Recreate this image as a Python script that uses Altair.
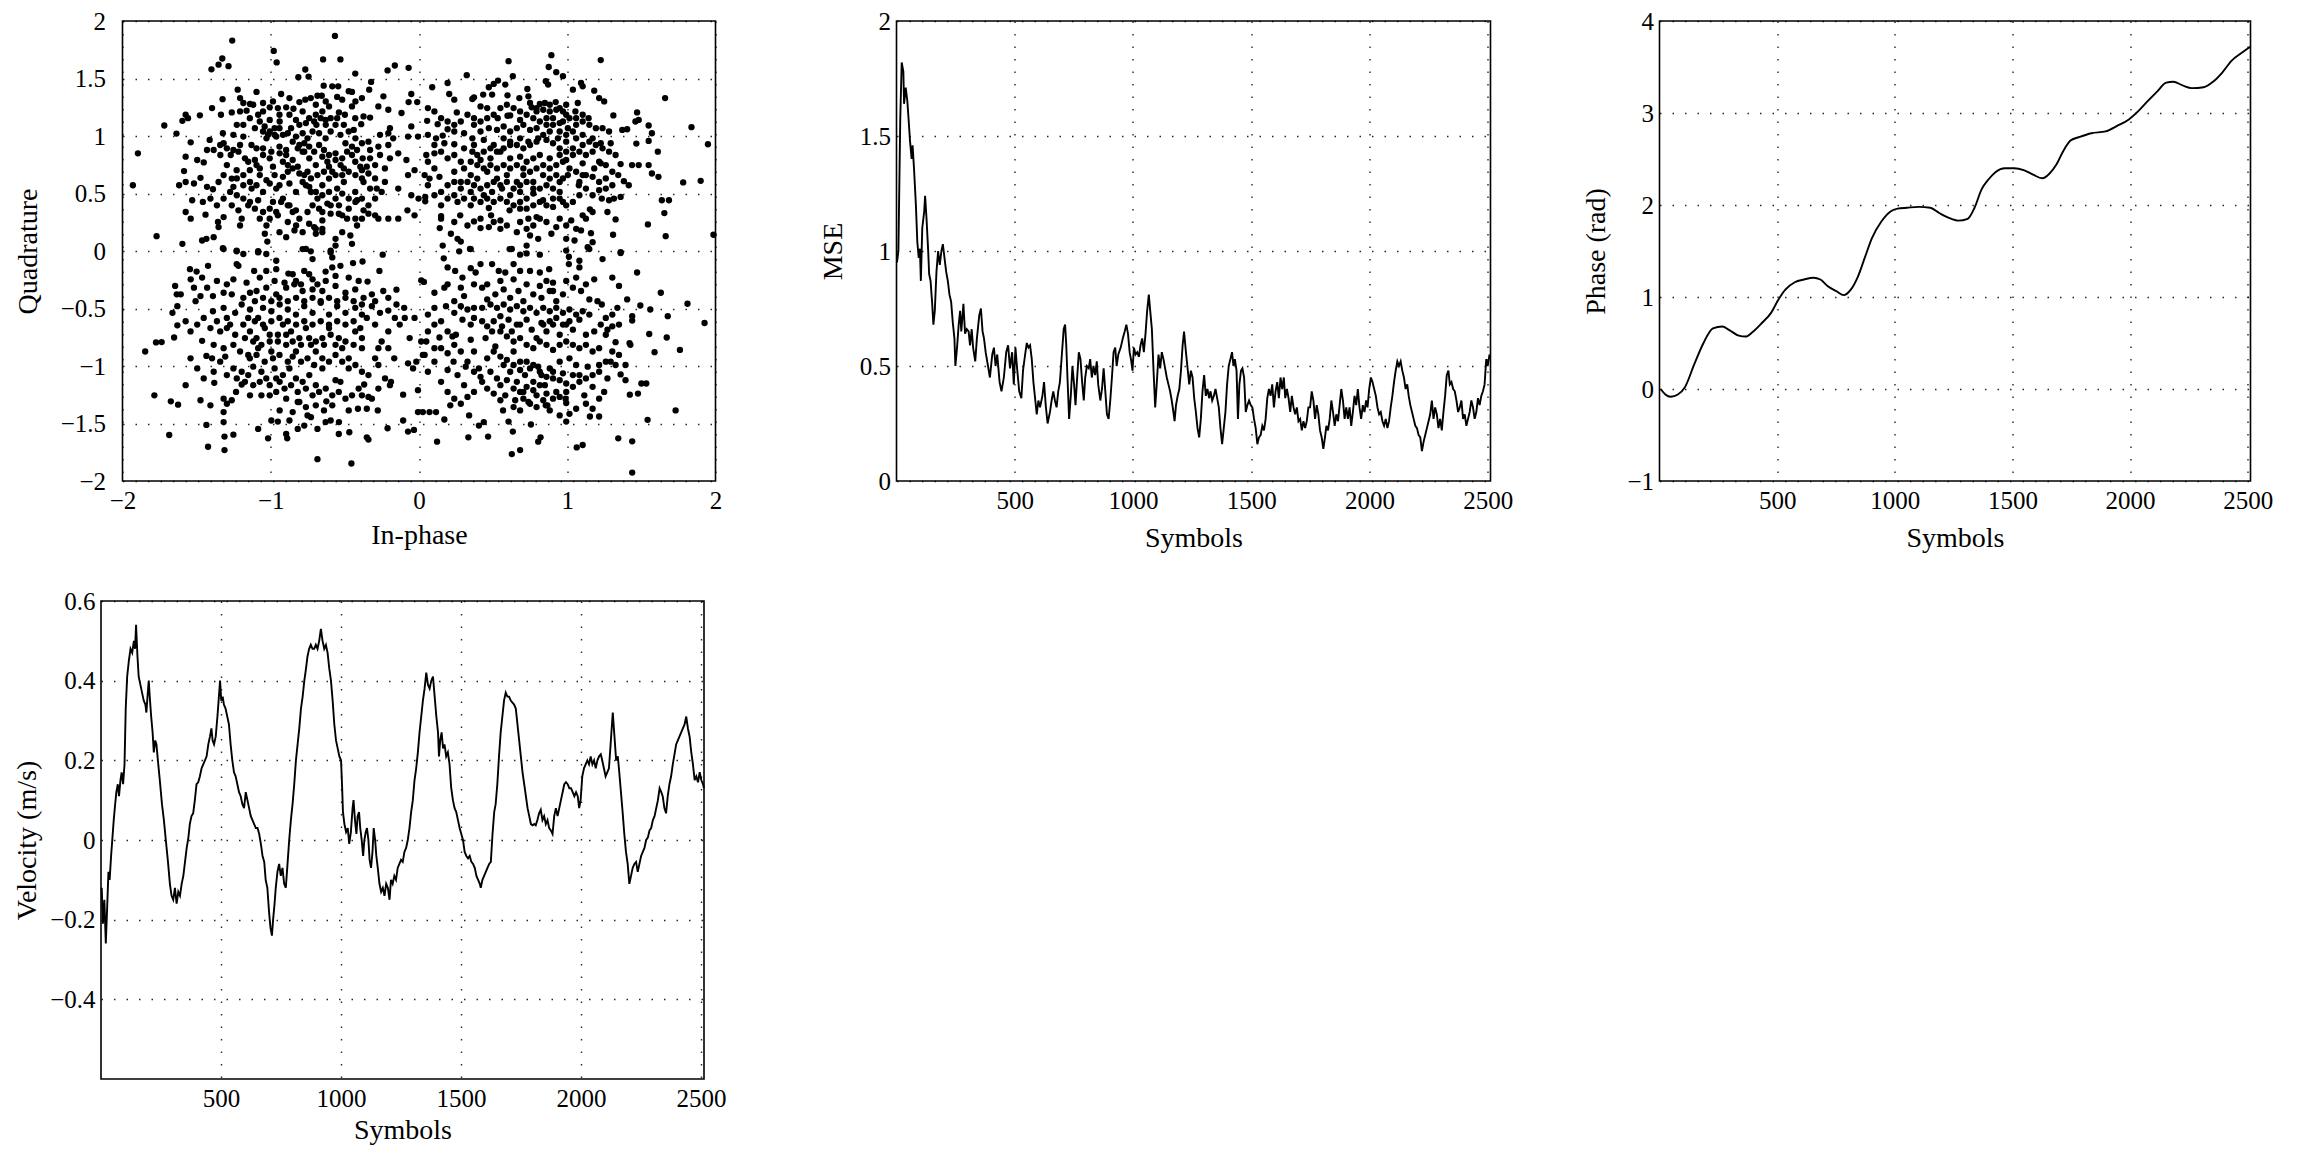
import altair as alt
import pandas as pd

FONT = "Liberation Serif"

# ---------------- data ----------------
# Constellation (In-phase, Quadrature), grouped by the region they were read from
iq_upper_left = [
    (-1.26, 1.83), (-0.98, 1.74), (-0.96, 1.64), (-0.567, 1.87), (-0.647, 1.666), (-0.53, 1.666),
    (-1.327, 1.674), (-1.352, 1.62), (-1.40, 1.58), (-1.285, 1.607), (-0.767, 1.578), (-0.814, 1.511),
    (-0.745, 1.517), (-0.43, 1.543), (-0.212, 1.57), (-0.163, 1.613), (-0.07, 1.593),
    (-1.223, 1.403), (-1.207, 1.33), (-1.185, 1.287), (-1.14, 1.278), (-1.096, 1.383), (-1.325, 1.32),
    (-0.93, 1.365), (-0.807, 1.295), (-0.767, 1.316), (-0.73, 1.33), (-0.685, 1.35), (-0.656, 1.35),
    (-0.643, 1.438), (-0.585, 1.432), (-0.545, 1.432), (-0.552, 1.34), (-0.474, 1.39), (-0.452, 1.383),
    (-0.323, 1.47), (-0.336, 1.403), (-0.24, 1.345), (-0.274, 1.257), (-0.207, 1.228), (-0.118, 1.2),
    (-0.07, 1.295), (-0.012, 1.295), (-0.052, 1.365),
    (-1.574, 1.185), (-1.558, 1.155), (-1.596, 1.132), (-1.478, 1.18), (-1.396, 1.243), (-1.336, 1.185),
    (-1.263, 1.205), (-1.207, 1.214), (-1.163, 1.22), (-1.085, 1.185), (-1.052, 1.214), (-1.007, 1.249),
    (-0.952, 1.243), (-0.896, 1.249), (-0.847, 1.237), (-0.874, 1.185), (-0.785, 1.214), (-0.696, 1.185),
    (-0.652, 1.214), (-0.607, 1.257), (-0.54, 1.205), (-0.5, 1.185), (-0.452, 1.257), (-0.43, 1.155),
    (-0.374, 1.17), (-0.33, 1.16), (-0.39, 1.103), (-1.074, 1.126), (-1.007, 1.14), (-0.94, 1.126),
    (-0.83, 1.14), (-0.763, 1.112), (-0.692, 1.097), (-0.63, 1.14), (-0.563, 1.097), (-1.718, 1.091),
    (-1.636, 1.021), (-0.196, 1.068), (-0.207, 1.024), (-0.052, 1.083),
    (-1.54, 0.945), (-1.412, 0.966), (-1.323, 1.024), (-1.318, 0.937), (-1.252, 1.01), (-1.185, 0.995),
    (-1.13, 0.922), (-1.052, 1.039), (-1.018, 1.01), (-0.974, 1.068), (-0.963, 0.995), (-0.918, 1.01),
    (-0.863, 1.068), (-0.83, 0.995), (-0.807, 0.922), (-0.774, 0.937), (-0.752, 0.98), (-0.718, 1.039),
    (-0.674, 1.024), (-0.63, 0.98), (-0.596, 1.039), (-0.53, 1.01), (-0.496, 0.937), (-0.44, 1.053),
    (-0.385, 0.937), (-0.341, 0.951), (-0.33, 0.878), (-0.274, 0.908), (-0.263, 1.01), (-0.074, 0.995),
    (-0.007, 0.995),
    (-1.896, 0.849), (-1.574, 0.82), (-1.496, 0.791), (-1.452, 0.77), (-1.43, 0.878), (-1.34, 0.835),
    (-1.27, 0.835), (-1.218, 0.864), (-1.174, 0.806), (-1.152, 0.776), (-1.107, 0.791), (-1.052, 0.835),
    (-1.007, 0.806), (-0.94, 0.849), (-0.896, 0.835), (-0.852, 0.791), (-0.785, 0.864), (-0.74, 0.806),
    (-0.696, 0.747), (-0.652, 0.82), (-0.618, 0.776), (-0.563, 0.849), (-0.518, 0.806), (-0.452, 0.835),
    (-0.43, 0.776), (-0.38, 0.806), (-0.33, 0.806), (-0.296, 0.747), (-0.23, 0.718), (-0.196, 0.806),
    (-0.14, 0.849), (-0.085, 0.791), (-0.03, 0.703), (-1.296, 0.747), (-1.23, 0.703), (-1.074, 0.718),
    (-0.985, 0.733), (-0.885, 0.689), (-0.818, 0.733), (-0.752, 0.689), (-0.585, 0.689), (-0.507, 0.718),
    (-0.385, 0.703),
    (-1.93, 0.572), (-1.585, 0.695), (-1.618, 0.572), (-1.574, 0.6), (-1.518, 0.587), (-1.474, 0.636),
    (-1.43, 0.558), (-1.39, 0.537), (-1.352, 0.6), (-1.318, 0.66), (-1.263, 0.63), (-1.252, 0.558),
    (-1.185, 0.66), (-1.14, 0.6), (-1.096, 0.572), (-1.052, 0.514), (-1.007, 0.587), (-0.963, 0.543),
    (-0.918, 0.645), (-0.874, 0.587), (-0.83, 0.514), (-0.785, 0.6), (-0.74, 0.558), (-0.696, 0.514),
    (-0.652, 0.572), (-0.607, 0.63), (-0.552, 0.543), (-0.507, 0.6), (-0.43, 0.514), (-0.374, 0.6),
    (-0.33, 0.543), (-0.285, 0.543), (-0.14, 0.543), (-0.074, 0.66), (-0.052, 0.485), (-0.003, 0.456),
    (-1.53, 0.441), (-1.458, 0.427), (-1.574, 0.339), (-1.54, 0.281), (-1.44, 0.316), (-1.356, 0.252),
    (-1.318, 0.295), (-1.263, 0.397), (-1.218, 0.354), (-1.196, 0.281), (-1.14, 0.427), (-1.085, 0.441),
    (-1.007, 0.368), (-0.963, 0.339), (-0.93, 0.427), (-0.874, 0.397), (-0.83, 0.354), (-0.807, 0.281),
    (-0.752, 0.339), (-0.718, 0.397), (-0.674, 0.368), (-0.618, 0.412), (-0.596, 0.325), (-0.652, 0.266),
    (-0.54, 0.397), (-0.518, 0.31), (-0.474, 0.368), (-0.418, 0.441), (-0.374, 0.354), (-0.341, 0.325),
    (-0.296, 0.31), (-0.274, 0.281), (-0.207, 0.281), (-0.14, 0.281), (-0.078, 0.354), (-0.03, 0.31),
    (-1.207, 0.222),
    (-1.77, 0.129), (-1.596, 0.062), (-1.463, 0.091), (-1.434, 0.106), (-1.385, 0.12), (-1.352, 0.208),
    (-1.323, 0.024), (-1.23, -0.002), (-1.085, -0.002), (-1.04, 0.15), (-1.023, 0.082), (-0.896, 0.12),
    (-0.84, 0.179), (-0.763, 0.018), (-0.707, 0.208), (-0.696, 0.15), (-0.652, 0.164), (-0.596, 0.004),
    (-0.563, 0.047), (-0.463, 0.135), (-0.452, 0.062), (-0.418, 0.222),
    # denser core of the cluster
    (-1.041, 1.083), (-1.007, 1.039), (-0.974, 1.010), (-1.029, 0.980), (-0.941, 1.068), (-0.885, 1.024),
    (-0.852, 0.951), (-0.818, 0.893), (-0.774, 0.864), (-0.741, 0.908), (-0.707, 0.864), (-0.674, 0.922),
    (-0.641, 0.878), (-0.607, 0.835), (-0.563, 0.791), (-0.529, 0.747), (-0.485, 0.864), (-0.452, 0.908),
    (-0.418, 0.878), (-0.396, 0.733), (-0.352, 0.733), (-0.741, 1.155), (-0.707, 1.126), (-0.663, 1.155),
    (-0.629, 1.097), (-0.596, 1.155), (-0.552, 1.155), (-0.507, 1.097), (-0.474, 1.039), (-0.429, 0.980),
    (-0.918, 0.776), (-0.885, 0.747), (-0.852, 0.718), (-0.807, 0.674), (-0.774, 0.660), (-0.729, 0.631),
    (-0.685, 0.660), (-0.641, 0.689), (-0.607, 0.733), (-0.563, 0.660), (-0.518, 0.660), (-0.474, 0.689),
    (-0.429, 0.660), (-0.385, 0.631), (-0.341, 0.674), (-0.763, 0.572), (-0.729, 0.514), (-0.685, 0.456),
    (-0.652, 0.485), (-0.607, 0.514), (-0.563, 0.456), (-0.518, 0.499), (-0.474, 0.456), (-0.429, 0.427),
    (-0.385, 0.456), (-0.918, 0.456), (-0.885, 0.397), (-0.852, 0.339), (-0.985, 0.427), (-0.952, 0.310),
    (-1.007, 0.281), (-1.052, 0.339), (-1.107, 0.368), (-1.152, 0.397), (-1.185, 0.456), (-1.229, 0.485),
    (-1.274, 0.514), (-1.318, 0.456), (-1.363, 0.397), (-1.407, 0.456), (-1.207, 0.922), (-1.252, 0.878),
    (-1.296, 0.893), (-1.341, 0.922), (-1.385, 0.878), (-1.096, 0.893), (-1.052, 0.893), (-0.996, 0.864),
    (-0.941, 0.908), (-0.896, 0.878), (-1.141, 1.155), (-1.185, 1.097), (-1.229, 1.097), (-1.107, 1.068),
    (-0.941, 1.185), (-0.807, 1.097), (-0.785, 1.024), (-1.074, 0.660), (-1.029, 0.616), (-0.974, 0.660),
    (-0.941, 0.572), (-1.129, 0.543), (-1.185, 0.572), (-1.229, 0.631), (-1.141, 0.703), (-1.096, 0.747),
    (-0.652, 0.339), (-0.596, 0.397), (-0.541, 0.324), (-0.485, 0.281), (-0.429, 0.281), (-0.741, 0.237),
    (-0.696, 0.193), (-0.785, 0.164), (-0.829, 0.222), (-0.885, 0.252), (-1.029, 0.222), (-1.074, 0.281),
    (-0.941, 0.164), (-0.652, 0.193), (-0.563, 0.106), (-0.518, 0.164), (-0.385, 0.281), (-0.341, 0.397),
    (-0.296, 0.456), (-0.252, 0.514), (-0.230, 0.601), (-0.296, 0.631), (-0.263, 0.835), (-0.207, 0.922),
    (-0.174, 0.980), (-0.429, 1.301), (-0.385, 1.330), (-0.518, 1.316), (-0.629, 1.301), (-0.696, 1.272),
    (-0.874, 1.330), (-0.985, 1.301), (-1.052, 1.287), (-1.118, 1.272),
]

iq_upper_right = [
    (0.893, 1.703), (0.875, 1.60), (0.926, 1.555), (0.971, 1.52), (0.604, 1.651), (1.226, 1.66),
    (0.322, 1.529), (0.089, 1.424), (0.193, 1.461), (0.204, 1.365), (0.238, 1.316), (0.371, 1.336),
    (0.36, 1.322), (0.433, 1.36), (0.471, 1.424), (0.504, 1.453), (0.533, 1.482), (0.493, 1.36),
    (0.582, 1.447), (0.597, 1.354), (0.633, 1.52), (0.677, 1.33), (0.731, 1.409), (0.738, 1.345),
    (0.855, 1.476), (0.871, 1.447), (1.038, 1.403), (1.093, 1.461), (1.104, 1.432), (1.182, 1.394),
    (1.215, 1.33), (1.249, 1.301), (1.66, 1.33), (0.255, 1.205), (0.415, 1.257), (0.46, 1.243),
    (0.531, 1.155), (0.597, 1.176), (0.615, 1.179), (0.682, 1.14), (0.76, 1.249), (0.793, 1.214),
    (0.815, 1.278), (0.849, 1.287), (0.882, 1.272), (0.922, 1.295), (0.949, 1.243), (0.993, 1.272),
    (0.993, 1.185), (1.055, 1.214), (1.071, 1.287), (1.104, 1.185), (1.144, 1.155), (1.311, 1.179),
    (1.471, 1.205), (1.482, 1.14), (1.838, 1.077), (0.055, 1.132), (0.126, 1.103), (0.193, 1.059),
    (0.238, 1.039), (0.304, 1.024), (0.371, 1.097), (0.415, 1.039), (0.471, 1.068), (0.526, 1.053),
    (0.571, 1.083), (0.615, 1.039), (0.66, 1.068), (0.704, 1.097), (0.749, 1.053), (0.793, 1.068),
    (0.86, 1.097), (0.904, 1.155), (0.949, 1.112), (1.004, 1.068), (1.06, 1.097), (1.149, 1.097),
    (1.193, 1.068), (1.238, 1.068), (1.282, 1.039), (1.371, 1.053), (1.404, 1.059), (1.46, 1.126),
    (1.549, 1.091), (1.571, 1.024), (1.949, 0.928), (0.115, 0.98), (0.16, 1.004), (0.171, 0.937),
    (0.238, 0.928), (0.304, 0.893), (0.36, 0.98), (0.371, 0.922), (0.437, 0.966), (0.504, 0.922),
    (0.571, 0.98), (0.615, 0.922), (0.682, 0.98), (0.738, 0.951), (0.804, 0.98), (0.86, 0.966),
    (0.904, 0.937), (0.937, 0.98), (0.993, 0.951), (1.06, 0.98), (1.104, 0.922), (1.171, 0.98),
    (1.226, 0.937), (1.293, 0.937), (1.466, 0.934), (1.549, 0.957), (1.611, 0.864), (0.049, 0.835),
    (0.104, 0.849), (0.193, 0.806), (0.238, 0.835), (0.282, 0.776), (0.36, 0.864), (0.415, 0.791),
    (0.482, 0.806), (0.549, 0.864), (0.615, 0.806), (0.682, 0.82), (0.726, 0.776), (0.771, 0.806),
    (0.815, 0.835), (0.882, 0.806), (0.949, 0.835), (0.993, 0.791), (1.038, 0.835), (1.104, 0.762),
    (1.182, 0.718), (1.226, 0.762), (1.36, 0.756), (1.437, 0.747), (1.482, 0.747), (1.549, 0.747),
    (1.571, 0.674), (1.615, 0.645), (1.782, 0.596), (1.9, 0.61), (0.038, 0.66), (0.071, 0.63),
    (0.138, 0.645), (0.238, 0.689), (0.282, 0.6), (0.349, 0.66), (0.393, 0.63), (0.46, 0.689),
    (0.526, 0.63), (0.593, 0.66), (0.66, 0.6), (0.704, 0.66), (0.771, 0.6), (0.837, 0.66),
    (0.882, 0.63), (0.949, 0.6), (1.004, 0.66), (1.078, 0.572), (1.126, 0.66), (1.171, 0.645),
    (1.215, 0.529), (1.26, 0.543), (1.344, 0.66), (1.382, 0.607), (1.415, 0.572), (0.042, 0.47),
    (0.042, 0.432), (0.149, 0.514), (0.238, 0.485), (0.349, 0.514), (0.437, 0.485), (0.493, 0.514),
    (0.56, 0.543), (0.615, 0.485), (0.682, 0.514), (0.726, 0.456), (0.771, 0.5), (0.837, 0.441),
    (0.904, 0.456), (0.949, 0.514), (1.082, 0.485), (1.233, 0.456), (1.282, 0.441), (1.315, 0.456),
    (1.36, 0.47), (1.638, 0.441), (1.686, 0.441), (1.655, 0.33), (0.149, 0.304), (0.149, 0.281),
    (0.278, 0.31), (0.349, 0.397), (0.371, 0.257), (0.471, 0.374), (0.486, 0.31), (0.549, 0.266),
    (0.611, 0.354), (0.682, 0.368), (0.738, 0.281), (0.793, 0.295), (0.815, 0.281), (0.904, 0.383),
    (0.971, 0.427), (1.027, 0.266), (1.104, 0.31), (1.153, 0.362), (1.271, 0.339), (1.326, 0.275),
    (1.544, 0.231), (0.14, 0.199), (0.215, 0.15), (0.26, 0.106), (0.282, 0.082), (0.415, 0.199),
    (0.471, 0.208), (0.549, 0.193), (0.66, 0.164), (0.726, 0.193), (0.749, 0.135), (0.804, 0.106),
    (0.893, 0.15), (0.926, 0.208), (0.993, 0.106), (1.049, 0.091), (1.093, 0.179), (1.16, 0.155),
    (1.171, 0.077), (1.309, 0.141), (1.664, 0.129), (1.986, 0.141), (0.16, 0.047), (0.344, 0.018),
    (0.626, 0.018), (0.726, 0.047), (0.993, 0.004), (1.138, 0.033), (1.36, -0.011),
    # denser core of the cluster
    (0.749, 1.287), (0.793, 1.243), (0.838, 1.228), (0.882, 1.214), (0.926, 1.228), (0.971, 1.214),
    (0.860, 1.155), (0.904, 1.097), (0.949, 1.039), (0.993, 1.010), (1.038, 1.039), (0.882, 1.039),
    (0.838, 1.010), (0.793, 0.951), (0.749, 0.922), (0.704, 0.893), (0.660, 0.922), (0.615, 0.951),
    (0.571, 0.893), (0.526, 0.864), (0.482, 0.893), (0.437, 0.864), (0.393, 0.835), (0.949, 0.893),
    (0.993, 0.864), (1.038, 0.893), (1.082, 0.864), (1.126, 0.835), (1.171, 0.864), (0.971, 0.776),
    (0.926, 0.747), (0.882, 0.718), (0.838, 0.747), (0.793, 0.718), (0.749, 0.689), (0.704, 0.718),
    (0.660, 0.747), (0.615, 0.718), (0.571, 0.747), (0.526, 0.718), (0.482, 0.747), (0.437, 0.718),
    (0.393, 0.747), (0.349, 0.776), (0.304, 0.718), (1.015, 0.718), (1.060, 0.689), (1.104, 0.660),
    (0.971, 0.631), (0.926, 0.660), (0.860, 0.572), (0.815, 0.543), (0.771, 0.543), (0.726, 0.601),
    (0.682, 0.572), (0.638, 0.543), (0.593, 0.601), (0.549, 0.572), (0.504, 0.601), (0.460, 0.572),
    (0.415, 0.543), (0.371, 0.572), (0.327, 0.601), (0.282, 0.543), (0.238, 0.601), (0.193, 0.572),
    (0.904, 0.543), (0.949, 0.456), (0.993, 0.397), (1.038, 0.427), (0.860, 0.397), (0.815, 0.427),
    (0.771, 0.397), (0.726, 0.368), (0.682, 0.427), (0.638, 0.397), (0.593, 0.427), (0.549, 0.456),
    (0.504, 0.427), (0.460, 0.456), (0.415, 0.427), (0.371, 0.456), (0.304, 0.456), (0.260, 0.427),
    (0.193, 0.456), (0.149, 0.397), (1.104, 1.010), (1.149, 0.951), (1.193, 0.922), (1.238, 0.893),
    (1.282, 0.864), (1.326, 0.835), (1.104, 1.126), (1.060, 1.155), (1.015, 1.155), (0.971, 1.126),
    (0.815, 1.126), (0.771, 1.155), (0.726, 1.185), (0.682, 1.214), (0.638, 1.243), (0.593, 1.272),
    (0.549, 1.243), (0.504, 1.185), (0.460, 1.155), (0.415, 1.126), (0.371, 1.155), (0.327, 1.185),
    (0.282, 1.126), (0.238, 1.097), (0.193, 1.126), (0.149, 1.155), (0.104, 1.214), (0.06, 1.243),
    (0.06, 1.010), (0.104, 0.922), (0.149, 0.864), (0.06, 0.776), (0.104, 0.718), (0.06, 0.572),
    (0.104, 0.485), (1.215, 0.601), (1.26, 0.631), (1.304, 0.572), (1.171, 0.485), (1.126, 0.543),
    (1.082, 0.601), (1.215, 0.776), (1.26, 0.747), (1.304, 0.689), (1.171, 0.339), (1.126, 0.281),
    (1.060, 0.193), (0.993, 0.222), (0.949, 0.281), (0.860, 0.252), (0.771, 0.222), (0.682, 0.252),
    (0.593, 0.222), (0.504, 0.252), (0.415, 0.281), (0.327, 0.222), (0.238, 0.252),
]

iq_lower_left = [
    (-1.318, 0.017), (-1.23, 0.003), (-1.185, -0.026), (-1.085, -0.012), (-1.03, -0.026), (-0.963, -0.085),
    (-0.785, 0.017), (-0.73, -0.003), (-0.718, -0.07), (-0.596, -0.012), (-0.585, -0.056), (-0.53, -0.129),
    (-0.445, -0.105), (-0.381, -0.091), (-0.245, -0.032), (-1.23, -0.114), (-1.218, -0.129), (-1.423, -0.129),
    (-1.545, -0.158), (-1.5, -0.179), (-1.54, -0.246), (-1.463, -0.231), (-1.112, -0.173), (-1.03, -0.173),
    (-0.963, -0.158), (-0.881, -0.196), (-0.83, -0.26), (-0.774, -0.173), (-0.718, -0.246), (-0.63, -0.179),
    (-0.563, -0.217), (-0.474, -0.231), (-0.407, -0.26), (-0.347, -0.266), (-0.267, -0.173), (-0.152, -0.336),
    (0.015, -0.255), (-1.645, -0.304), (-1.634, -0.377), (-1.607, -0.377), (-1.39, -0.392), (-1.318, -0.363),
    (-1.263, -0.377), (-1.185, -0.407), (-1.14, -0.363), (-1.096, -0.348), (-1.03, -0.319), (-0.963, -0.377),
    (-0.896, -0.319), (-0.841, -0.29), (-0.785, -0.348), (-0.718, -0.334), (-0.652, -0.348), (-0.563, -0.304),
    (-0.496, -0.363), (-0.43, -0.334), (-0.374, -0.407), (-0.318, -0.377), (-0.241, -0.348),
    (-1.663, -0.538), (-1.63, -0.48), (-1.507, -0.436), (-1.39, -0.524), (-1.318, -0.494), (-1.296, -0.582),
    (-1.24, -0.538), (-1.196, -0.465), (-1.14, -0.509), (-1.085, -0.582), (-1.052, -0.494), (-0.996, -0.524),
    (-0.94, -0.465), (-0.885, -0.509), (-0.83, -0.553), (-0.774, -0.48), (-0.718, -0.538), (-0.663, -0.45),
    (-0.607, -0.553), (-0.552, -0.48), (-0.496, -0.538), (-0.43, -0.494), (-0.385, -0.553), (-0.318, -0.48),
    (-0.263, -0.538), (-0.207, -0.518), (-0.1, -0.494),
    (-1.63, -0.646), (-1.652, -0.752), (-1.774, -0.795), (-1.736, -0.792), (-1.847, -0.874), (-1.463, -0.781),
    (-1.434, -0.912), (-1.396, -0.933), (-1.385, -0.816), (-1.318, -0.845), (-1.307, -0.918), (-1.296, -0.67),
    (-1.24, -0.728), (-1.185, -0.64), (-1.152, -0.904), (-1.14, -0.699), (-1.096, -0.757), (-1.085, -0.845),
    (-1.04, -0.67), (-1.007, -0.787), (-0.996, -0.874), (-0.952, -0.728), (-0.918, -0.64), (-0.896, -0.816),
    (-0.863, -0.699), (-0.83, -0.874), (-0.807, -0.757), (-0.763, -0.67), (-0.729, -0.816), (-0.696, -0.874),
    (-0.652, -0.757), (-0.607, -0.67), (-0.563, -0.816), (-0.518, -0.845), (-0.474, -0.933), (-0.43, -0.699),
    (-0.385, -0.757), (-0.352, -0.582), (-0.296, -0.64), (-0.274, -0.845), (-0.207, -0.845), (-0.13, -0.64),
    (-0.096, -0.582), (-0.03, -0.582), (-0.063, -0.757), (-0.167, -0.933), (-0.074, -0.977), (-0.018, -0.962),
    (-1.785, -1.255), (-1.674, -1.307), (-1.625, -1.336), (-1.474, -1.298), (-1.407, -1.342), (-1.381, -1.146),
    (-1.318, -1.284), (-1.296, -1.328), (-1.263, -1.298), (-1.234, -1.225), (-1.196, -1.161), (-1.318, -1.401),
    (-1.318, -1.488), (-1.434, -1.512), (-1.312, -1.614), (-1.252, -1.597), (-1.423, -1.702), (-1.312, -1.731),
    (-1.685, -1.6), (-1.196, -1.05), (-1.152, -1.079), (-1.118, -1.006), (-1.063, -1.05), (-1.03, -1.108),
    (-0.974, -1.021), (-0.94, -1.138), (-0.918, -1.079), (-0.874, -1.021), (-0.83, -1.108), (-0.785, -1.138),
    (-0.74, -1.079), (-0.696, -1.167), (-0.652, -1.021), (-0.563, -1.123), (-0.53, -1.138), (-1.14, -1.255),
    (-1.063, -1.255), (-1.007, -1.255), (-0.963, -1.225), (-0.94, -1.386), (-0.896, -1.284), (-0.852, -1.401),
    (-0.818, -1.313), (-0.763, -1.357), (-0.729, -1.445), (-0.625, -1.307), (-0.63, -1.488), (-0.596, -1.474),
    (-0.54, -1.488), (-0.474, -1.386), (-0.412, -1.372), (-0.352, -1.372), (-0.278, -1.386), (-0.996, -1.474),
    (-0.952, -1.483), (-1.085, -1.547), (-1.018, -1.629), (-0.896, -1.591), (-0.889, -1.629), (-0.774, -1.518),
    (-0.47, -1.576), (-0.352, -1.62), (-0.341, -1.64), (-0.212, -1.541), (-0.685, -1.81), (-0.456, -1.848),
    (-0.37, -1.161), (-0.407, -1.196), (-0.385, -1.255), (-0.341, -1.269), (-0.274, -0.991), (-0.189, -1.138),
    (-0.196, -1.167), (-0.107, -1.249), (-0.107, -1.474), (-0.074, -1.57), (-0.034, -1.556), (-0.007, -1.401),
    (0.026, -1.401), (-0.04, -1.021), (-0.007, -1.21), (0.026, -0.904),
    # denser core of the cluster
    (-1.107, -0.436), (-1.052, -0.407), (-0.996, -0.436), (-0.941, -0.407), (-0.885, -0.436), (-0.829, -0.407),
    (-0.774, -0.436), (-0.718, -0.407), (-0.663, -0.436), (-0.607, -0.407), (-0.552, -0.436), (-0.496, -0.407),
    (-0.441, -0.436), (-0.385, -0.465), (-1.152, -0.582), (-1.107, -0.611), (-1.052, -0.640), (-0.996, -0.611),
    (-0.941, -0.582), (-0.885, -0.611), (-0.829, -0.640), (-0.774, -0.611), (-0.718, -0.640), (-0.663, -0.611),
    (-0.607, -0.640), (-0.552, -0.611), (-0.496, -0.640), (-0.441, -0.611), (-0.396, -0.670), (-1.174, -0.757),
    (-1.118, -0.787), (-1.063, -0.816), (-1.007, -0.728), (-0.952, -0.787), (-0.896, -0.728), (-0.852, -0.787),
    (-0.796, -0.816), (-0.741, -0.757), (-0.696, -0.787), (-0.641, -0.816), (-0.596, -0.728), (-0.541, -0.757),
    (-0.496, -0.787), (-0.441, -0.816), (-0.385, -0.845), (-1.141, -0.933), (-1.096, -0.904), (-1.041, -0.962),
    (-0.985, -0.933), (-0.941, -0.904), (-0.885, -0.962), (-0.852, -0.918), (-0.796, -0.962), (-0.752, -0.933),
    (-0.707, -0.991), (-0.652, -0.933), (-0.607, -0.962), (-0.563, -0.904), (-0.518, -0.962), (-0.474, -1.021),
    (-0.429, -0.991), (-0.385, -1.050), (-0.341, -1.079), (-1.229, -1.108), (-1.174, -1.138), (-1.118, -1.167),
    (-1.074, -1.138), (-1.007, -1.167), (-0.963, -1.108), (-0.907, -1.196), (-0.863, -1.167), (-0.818, -1.225),
    (-0.763, -1.196), (-0.718, -1.255), (-0.674, -1.225), (-0.629, -1.196), (-0.585, -1.255), (-0.541, -1.225),
    (-0.496, -1.284), (-0.452, -1.255), (-1.274, -0.640), (-1.341, -0.699), (-1.363, -0.611), (-1.407, -0.670),
    (-1.452, -0.582), (-1.496, -0.640), (-1.541, -0.699), (-1.574, -0.611), (-1.252, -0.816), (-1.207, -0.874),
    (-1.341, -0.962), (-1.385, -1.050), (-1.296, -1.079), (-1.252, -1.021), (-1.452, -1.108), (-1.496, -1.021),
    (-1.541, -0.933), (-1.574, -1.167), (-0.807, -1.313), (-0.752, -1.430), (-0.696, -1.342), (-0.641, -1.386),
    (-0.585, -1.342), (-0.874, -1.474), (-0.818, -1.547), (-0.685, -1.547), (-0.541, -1.591), (-0.318, -1.284),
    (-0.274, -1.196), (-0.229, -1.108), (-0.296, -0.933), (-0.252, -0.787), (-0.207, -0.699), (-0.163, -0.582),
    (-0.296, -0.436), (-0.207, -0.407), (-0.152, -0.465), (-0.974, -0.260), (-0.907, -0.275), (-0.852, -0.202),
    (-0.796, -0.290), (-0.741, -0.202), (-0.685, -0.290), (-0.629, -0.260), (-0.585, -0.143), (-1.074, -0.231),
    (-1.163, -0.275), (-1.252, -0.246), (-1.296, -0.290), (-1.363, -0.260), (-1.429, -0.319), (-1.474, -0.392),
    (-1.518, -0.319),
]

iq_lower_right = [
    (0.271, -0.003), (0.349, 0.017), (0.611, 0.017), (0.682, -0.032), (0.726, -0.021), (0.815, -0.032),
    (1.011, -0.05), (1.082, -0.085), (1.149, 0.017), (1.36, -0.018), (0.033, -0.269), (0.167, -0.064),
    (0.193, -0.143), (0.244, -0.173), (0.293, -0.231), (0.349, -0.149), (0.382, -0.187), (0.415, -0.114),
    (0.493, -0.114), (0.538, -0.173), (0.582, -0.187), (0.638, -0.114), (0.682, -0.173), (0.749, -0.173),
    (0.815, -0.187), (0.878, -0.158), (0.86, -0.26), (0.904, -0.275), (1.011, -0.114), (1.082, -0.143),
    (1.182, -0.246), (1.238, -0.07), (1.304, -0.231), (1.349, -0.304), (1.471, -0.187), (0.104, -0.363),
    (0.104, -0.494), (0.171, -0.319), (0.182, -0.48), (0.238, -0.436), (0.304, -0.392), (0.371, -0.494),
    (0.426, -0.319), (0.46, -0.421), (0.515, -0.377), (0.571, -0.334), (0.615, -0.407), (0.671, -0.348),
    (0.704, -0.436), (0.771, -0.377), (0.826, -0.407), (0.882, -0.348), (0.926, -0.436), (0.971, -0.377),
    (1.038, -0.319), (1.093, -0.348), (1.149, -0.421), (1.204, -0.436), (1.233, -0.465), (1.338, -0.494),
    (1.404, -0.421), (1.493, -0.474), (1.56, -0.509), (1.631, -0.363), (1.678, -0.567), (1.811, -0.459),
    (1.926, -0.626), (1.438, -0.567), (1.438, -0.605), (0.293, -0.597), (0.226, -0.743), (0.249, -0.728),
    (0.349, -0.64), (0.426, -0.611), (0.449, -0.757), (0.493, -0.699), (0.549, -0.567), (0.56, -0.655),
    (0.604, -0.597), (0.626, -0.699), (0.66, -0.64), (0.682, -0.757), (0.726, -0.597), (0.76, -0.684),
    (0.793, -0.757), (0.826, -0.626), (0.86, -0.699), (0.904, -0.64), (0.949, -0.728), (0.993, -0.64),
    (1.038, -0.684), (1.082, -0.597), (1.126, -0.728), (1.182, -0.699), (1.226, -0.64), (1.271, -0.684),
    (1.304, -0.655), (1.326, -0.793), (1.42, -0.801), (1.426, -0.816), (1.553, -0.722), (1.589, -0.88),
    (1.671, -0.752), (1.76, -0.86), (0.015, -0.787), (0.049, -0.787), (0.038, -0.904), (0.104, -0.962),
    (0.138, -0.752), (0.193, -0.889), (0.193, -1.035), (0.233, -0.962), (0.26, -1.079), (0.304, -1.167),
    (0.315, -1.006), (0.349, -0.772), (0.371, -0.874), (0.404, -1.021), (0.426, -1.138), (0.46, -0.933),
    (0.482, -1.05), (0.515, -0.83), (0.526, -1.108), (0.549, -1.167), (0.571, -0.991), (0.582, -1.255),
    (0.615, -1.05), (0.638, -0.874), (0.649, -1.298), (0.66, -1.138), (0.682, -0.962), (0.704, -1.225),
    (0.715, -1.079), (0.738, -1.313), (0.749, -1.021), (0.771, -1.138), (0.793, -1.255), (0.804, -1.006),
    (0.826, -1.079), (0.849, -1.167), (0.855, -1.342), (0.882, -1.021), (0.904, -1.108), (0.926, -1.225),
    (0.949, -0.962), (0.971, -1.064), (0.989, -1.284), (1.015, -0.933), (1.038, -1.079), (1.06, -0.991),
    (1.082, -1.079), (1.115, -1.255), (1.138, -1.006), (1.171, -1.079), (1.215, -0.991), (1.249, -1.225),
    (1.271, -1.108), (1.326, -0.991), (1.36, -1.073), (1.293, -0.962), (1.422, -1.249), (1.477, -1.24),
    (1.5, -1.152), (1.533, -1.152), (1.731, -1.386), (1.542, -1.468), (0.071, -1.401), (0.115, -1.401),
    (0.171, -1.465), (0.122, -1.658), (0.211, -1.342), (0.338, -1.43), (0.333, -1.62), (0.404, -1.518),
    (0.437, -1.488), (0.466, -1.614), (0.567, -1.386), (0.604, -1.483), (0.633, -1.57), (0.626, -1.766),
    (0.682, -1.731), (0.755, -1.509), (0.804, -1.658), (0.82, -1.62), (0.866, -1.342), (0.993, -1.483),
    (0.993, -1.322), (1.064, -1.708), (1.104, -1.687), (1.153, -1.439), (1.171, -1.372), (1.215, -1.439),
    (1.344, -1.629), (1.438, -1.655), (1.438, -1.927),
    # denser core of the cluster
    (0.482, -0.465), (0.526, -0.494), (0.571, -0.465), (0.615, -0.509), (0.660, -0.480), (0.704, -0.524),
    (0.749, -0.494), (0.793, -0.538), (0.838, -0.494), (0.882, -0.524), (0.926, -0.494), (0.971, -0.538),
    (1.015, -0.509), (1.060, -0.553), (1.104, -0.524), (1.149, -0.553), (0.460, -0.655), (0.504, -0.611),
    (0.549, -0.699), (0.593, -0.743), (0.638, -0.787), (0.682, -0.640), (0.726, -0.816), (0.771, -0.845),
    (0.815, -0.787), (0.860, -0.816), (0.904, -0.860), (0.949, -0.816), (0.993, -0.787), (1.038, -0.816),
    (1.082, -0.845), (1.126, -0.816), (1.171, -0.874), (1.215, -0.845), (0.504, -0.874), (0.549, -0.918),
    (0.593, -0.947), (0.638, -0.991), (0.682, -1.035), (0.726, -0.962), (0.771, -0.991), (0.815, -1.050),
    (0.860, -1.094), (0.904, -1.050), (0.949, -1.123), (0.993, -1.152), (1.038, -1.181), (1.082, -1.138),
    (1.126, -1.108), (0.593, -1.123), (0.638, -1.196), (0.682, -1.225), (0.726, -1.181), (0.771, -1.211),
    (0.815, -1.167), (0.860, -1.240), (0.904, -1.284), (0.949, -1.269), (0.993, -1.225), (0.704, -1.284),
    (0.749, -1.328), (0.793, -1.357), (0.838, -1.298), (0.882, -1.386), (0.682, -1.386), (0.638, -1.357),
    (0.549, -1.298), (0.504, -1.240), (0.460, -1.196), (0.415, -1.094), (0.371, -1.050), (0.327, -0.962),
    (0.282, -0.874), (0.238, -0.816), (0.193, -0.699), (0.149, -0.611), (0.104, -0.640), (0.06, -0.699),
    (0.06, -0.553), (0.149, -0.845), (0.104, -0.845), (0.06, -1.050), (0.149, -1.138), (0.193, -1.225),
    (0.238, -1.284), (0.282, -1.328), (0.327, -1.269), (0.371, -1.225), (1.260, -0.582), (1.304, -0.553),
    (1.349, -0.640), (1.260, -0.728), (1.304, -0.874), (1.349, -0.904), (1.260, -0.962), (1.215, -1.050),
    (1.171, -1.181), (1.215, -1.284), (1.126, -1.328), (1.060, -1.372), (1.015, -1.416), (0.949, -1.430),
    (1.393, -0.991), (1.393, -1.123), (0.460, -0.290), (0.549, -0.260), (0.638, -0.246), (0.726, -0.290),
    (0.815, -0.304), (0.904, -0.348), (0.993, -0.260), (1.060, -0.231), (1.126, -0.290), (0.371, -0.290),
    (0.282, -0.319), (0.193, -0.290), (0.426, -0.494), (0.371, -0.582), (0.327, -0.509), (0.282, -0.480),
    (0.238, -0.538), (0.838, -0.640), (0.882, -0.611), (0.926, -0.582), (0.971, -0.640), (1.015, -0.611),
]

# MSE vs symbols
mse_points = [
    (2, 0.95), (8, 1.00), (16, 1.58), (22, 1.82), (29, 1.78), (32, 1.64), (39, 1.71), (46, 1.65), (50, 1.59),
    (57, 1.48), (64, 1.40), (68, 1.46), (74, 1.36), (82, 1.20), (88, 1.04), (94, 0.97), (99, 1.01), (103, 0.87),
    (109, 1.10), (117, 1.17), (121, 1.24), (127, 1.14), (134, 1.00), (138, 0.90), (144, 0.87), (151, 0.77),
    (156, 0.68), (162, 0.74), (169, 0.91), (176, 1.00), (183, 0.94), (190, 1.00), (196, 1.03), (203, 0.97),
    (210, 0.91), (217, 0.87), (224, 0.81), (231, 0.78), (238, 0.69), (245, 0.62), (249, 0.50), (256, 0.58),
    (263, 0.68), (269, 0.74), (274, 0.65), (283, 0.77), (290, 0.64), (297, 0.66), (305, 0.65), (311, 0.59),
    (318, 0.66), (324, 0.58), (333, 0.52), (340, 0.62), (350, 0.72), (357, 0.75), (364, 0.65), (370, 0.62),
    (377, 0.56), (387, 0.50), (395, 0.45), (405, 0.55), (412, 0.58), (419, 0.50), (426, 0.55), (436, 0.43),
    (444, 0.39), (454, 0.45), (464, 0.56), (472, 0.59), (480, 0.49), (489, 0.56), (496, 0.42), (503, 0.58),
    (510, 0.49), (519, 0.39), (528, 0.36), (535, 0.48), (544, 0.55), (551, 0.60), (558, 0.58), (565, 0.59),
    (572, 0.53), (579, 0.43), (586, 0.36), (593, 0.29), (600, 0.35), (607, 0.32), (617, 0.37), (624, 0.43),
    (631, 0.33), (639, 0.25), (649, 0.30), (656, 0.35), (663, 0.39), (670, 0.35), (677, 0.32), (684, 0.39),
    (691, 0.43), (700, 0.56), (707, 0.66), (713, 0.68), (718, 0.59), (723, 0.45), (730, 0.27), (737, 0.37),
    (744, 0.50), (751, 0.42), (757, 0.33), (764, 0.45), (771, 0.56), (778, 0.53), (785, 0.43), (792, 0.35),
    (798, 0.45), (805, 0.50), (813, 0.49), (819, 0.53), (826, 0.45), (833, 0.50), (840, 0.46), (847, 0.52),
    (853, 0.42), (862, 0.35), (869, 0.40), (876, 0.49), (883, 0.39), (890, 0.29), (897, 0.27), (904, 0.35),
    (911, 0.45), (918, 0.56), (925, 0.58), (931, 0.50), (938, 0.55), (948, 0.58), (957, 0.62), (965, 0.65),
    (972, 0.68), (979, 0.64), (986, 0.56), (993, 0.52), (998, 0.48), (1004, 0.58), (1011, 0.55), (1018, 0.56),
    (1025, 0.54), (1032, 0.59), (1039, 0.62), (1046, 0.56), (1053, 0.64), (1060, 0.74), (1067, 0.81),
    (1073, 0.74), (1080, 0.66), (1087, 0.48), (1094, 0.32), (1101, 0.43), (1108, 0.55), (1115, 0.49),
    (1122, 0.56), (1129, 0.53), (1136, 0.49), (1143, 0.45), (1150, 0.42), (1157, 0.39), (1164, 0.35),
    (1171, 0.30), (1176, 0.26), (1182, 0.33), (1189, 0.37), (1196, 0.40), (1203, 0.48), (1210, 0.59),
    (1216, 0.65), (1224, 0.56), (1231, 0.49), (1238, 0.42), (1245, 0.48), (1252, 0.45), (1259, 0.36),
    (1266, 0.30), (1273, 0.23), (1280, 0.19), (1287, 0.27), (1294, 0.39), (1301, 0.46), (1308, 0.37),
    (1315, 0.40), (1322, 0.36), (1328, 0.39), (1335, 0.35), (1342, 0.37), (1349, 0.40), (1356, 0.36),
    (1363, 0.32), (1370, 0.23), (1377, 0.16), (1384, 0.23), (1391, 0.30), (1398, 0.42), (1405, 0.50),
    (1412, 0.53), (1419, 0.56), (1425, 0.50), (1431, 0.53), (1438, 0.48), (1444, 0.27), (1450, 0.42),
    (1457, 0.48), (1463, 0.49), (1470, 0.45), (1477, 0.30), (1484, 0.33), (1491, 0.35), (1498, 0.33),
    (1505, 0.32), (1512, 0.27), (1519, 0.23), (1526, 0.16), (1533, 0.19), (1540, 0.20), (1547, 0.24),
    (1554, 0.22), (1561, 0.27), (1568, 0.36), (1575, 0.40), (1582, 0.37), (1589, 0.42), (1596, 0.32),
    (1603, 0.39), (1610, 0.43), (1617, 0.36), (1624, 0.45), (1631, 0.40), (1638, 0.45), (1644, 0.36),
    (1651, 0.40), (1658, 0.36), (1665, 0.30), (1672, 0.37), (1679, 0.32), (1686, 0.29), (1693, 0.32),
    (1700, 0.26), (1707, 0.27), (1714, 0.22), (1721, 0.26), (1728, 0.23), (1735, 0.26), (1742, 0.32),
    (1749, 0.32), (1756, 0.39), (1763, 0.35), (1770, 0.27), (1777, 0.33), (1784, 0.29), (1791, 0.22),
    (1798, 0.19), (1805, 0.14), (1812, 0.19), (1818, 0.24), (1825, 0.22), (1832, 0.27), (1839, 0.35),
    (1846, 0.30), (1853, 0.24), (1860, 0.29), (1867, 0.26), (1874, 0.33), (1881, 0.40), (1888, 0.35),
    (1895, 0.27), (1902, 0.32), (1909, 0.27), (1916, 0.32), (1923, 0.24), (1930, 0.30), (1937, 0.37),
    (1944, 0.33), (1951, 0.40), (1958, 0.32), (1965, 0.27), (1972, 0.33), (1979, 0.30), (1986, 0.35),
    (1992, 0.32), (1999, 0.40), (2006, 0.45), (2013, 0.43), (2020, 0.40), (2027, 0.37), (2034, 0.32),
    (2041, 0.29), (2048, 0.30), (2055, 0.26), (2062, 0.24), (2069, 0.27), (2076, 0.23), (2083, 0.26),
    (2090, 0.32), (2097, 0.37), (2104, 0.43), (2111, 0.48), (2118, 0.52), (2125, 0.50), (2132, 0.52),
    (2139, 0.48), (2146, 0.45), (2153, 0.40), (2160, 0.42), (2166, 0.37), (2173, 0.33), (2180, 0.30),
    (2187, 0.27), (2194, 0.24), (2201, 0.23), (2208, 0.20), (2215, 0.19), (2222, 0.13), (2229, 0.17),
    (2236, 0.20), (2243, 0.23), (2250, 0.26), (2257, 0.29), (2264, 0.35), (2271, 0.27), (2278, 0.32),
    (2285, 0.29), (2292, 0.23), (2299, 0.27), (2306, 0.22), (2313, 0.30), (2320, 0.37), (2327, 0.46),
    (2334, 0.48), (2340, 0.42), (2347, 0.43), (2354, 0.40), (2361, 0.39), (2368, 0.35), (2375, 0.30),
    (2382, 0.32), (2389, 0.35), (2396, 0.27), (2403, 0.29), (2410, 0.24), (2417, 0.27), (2424, 0.30),
    (2431, 0.35), (2438, 0.32), (2445, 0.27), (2452, 0.30), (2459, 0.36), (2466, 0.33), (2473, 0.37),
    (2480, 0.39), (2487, 0.42), (2494, 0.53), (2500, 0.50), (2508, 0.55),
]

# Phase (rad) vs symbols
phase_points = [
    (5, 0.0), (25, -0.06), (48, -0.085), (78, -0.06), (108, 0.02), (148, 0.27), (187, 0.50), (227, 0.66),
    (267, 0.68), (297, 0.64), (337, 0.58), (366, 0.57), (396, 0.62), (436, 0.72), (475, 0.83), (505, 0.97),
    (535, 1.08), (575, 1.16), (614, 1.19), (654, 1.21), (684, 1.19), (714, 1.12), (754, 1.06), (783, 1.02),
    (813, 1.08), (843, 1.22), (873, 1.43), (903, 1.64), (943, 1.82), (982, 1.93), (1012, 1.96), (1052, 1.97),
    (1101, 1.98), (1151, 1.97), (1191, 1.91), (1230, 1.86), (1270, 1.83), (1310, 1.85), (1339, 1.97),
    (1369, 2.17), (1399, 2.28), (1429, 2.36), (1468, 2.40), (1508, 2.40), (1548, 2.38), (1588, 2.33),
    (1627, 2.29), (1657, 2.34), (1687, 2.44), (1717, 2.59), (1747, 2.70), (1786, 2.74), (1836, 2.78),
    (1896, 2.80), (1945, 2.86), (1995, 2.93), (2035, 3.02), (2075, 3.13), (2114, 3.23), (2154, 3.33),
    (2184, 3.34), (2223, 3.30), (2263, 3.27), (2313, 3.28), (2353, 3.34), (2392, 3.44), (2432, 3.57),
    (2472, 3.65), (2511, 3.72),
]

# Velocity (m/s) vs symbols
velocity_points = [
    (3, -0.12), (8, -0.21), (14, -0.15), (20, -0.26), (25, -0.18), (31, -0.08), (36, -0.10), (42, -0.04),
    (47, 0.0), (53, 0.05), (59, 0.09), (64, 0.12), (70, 0.14), (75, 0.11), (81, 0.15), (86, 0.17), (92, 0.14),
    (98, 0.19), (103, 0.33), (109, 0.41), (116, 0.45), (123, 0.48), (130, 0.47), (137, 0.50), (142, 0.48),
    (146, 0.54), (152, 0.46), (157, 0.41), (164, 0.39), (171, 0.37), (178, 0.35), (185, 0.34), (189, 0.32),
    (195, 0.37), (199, 0.40), (203, 0.36), (209, 0.31), (215, 0.27), (220, 0.22), (226, 0.25), (231, 0.24),
    (237, 0.20), (245, 0.15), (254, 0.09), (262, 0.05), (270, 0.0), (279, -0.055), (287, -0.11), (294, -0.14),
    (301, -0.15), (308, -0.12), (315, -0.16), (322, -0.13), (329, -0.14), (336, -0.11), (343, -0.09),
    (350, -0.055), (357, -0.02), (364, 0.006), (370, 0.04), (377, 0.06), (384, 0.067), (391, 0.10),
    (398, 0.14), (405, 0.145), (412, 0.16), (419, 0.18), (426, 0.19), (433, 0.20), (440, 0.21), (447, 0.24),
    (454, 0.26), (460, 0.28), (465, 0.25), (471, 0.24), (478, 0.26), (485, 0.31), (490, 0.35), (496, 0.40),
    (501, 0.35), (507, 0.36), (512, 0.34), (519, 0.33), (526, 0.31), (533, 0.29), (540, 0.24), (547, 0.20),
    (554, 0.17), (561, 0.16), (568, 0.14), (575, 0.12), (582, 0.11), (589, 0.09), (596, 0.08), (603, 0.12),
    (610, 0.10), (617, 0.08), (624, 0.06), (631, 0.05), (638, 0.04), (645, 0.03), (652, 0.03), (659, 0.015),
    (666, -0.01), (673, -0.04), (680, -0.055), (686, -0.10), (693, -0.12), (700, -0.18), (706, -0.22),
    (712, -0.24), (717, -0.20), (723, -0.16), (728, -0.12), (735, -0.08), (742, -0.06), (749, -0.09),
    (756, -0.07), (763, -0.11), (770, -0.12), (777, -0.06), (784, 0.0), (791, 0.05), (798, 0.09),
    (805, 0.14), (812, 0.20), (819, 0.24), (826, 0.28), (833, 0.33), (840, 0.36), (847, 0.40), (854, 0.43),
    (860, 0.46), (867, 0.48), (874, 0.49), (881, 0.48), (888, 0.48), (895, 0.49), (902, 0.48), (909, 0.50),
    (916, 0.53), (923, 0.50), (930, 0.48), (937, 0.49), (944, 0.47), (951, 0.43), (958, 0.40), (965, 0.35),
    (972, 0.29), (979, 0.25), (986, 0.23), (993, 0.21), (1000, 0.20), (1004, 0.14), (1008, 0.07),
    (1014, 0.04), (1021, 0.02), (1028, 0.03), (1034, -0.01), (1041, 0.02), (1048, 0.08), (1052, 0.10),
    (1058, 0.05), (1064, 0.015), (1069, 0.06), (1075, 0.07), (1080, 0.03), (1086, 0.0), (1092, -0.04),
    (1097, 0.0), (1103, 0.02), (1108, 0.03), (1114, 0.0), (1119, -0.05), (1125, -0.07), (1131, -0.03),
    (1136, 0.03), (1142, 0.0), (1147, -0.04), (1153, -0.07), (1160, -0.11), (1167, -0.13), (1174, -0.12),
    (1181, -0.14), (1188, -0.11), (1195, -0.12), (1202, -0.15), (1208, -0.10), (1215, -0.11), (1222, -0.09),
    (1229, -0.10), (1236, -0.07), (1243, -0.06), (1250, -0.05), (1257, -0.055), (1264, -0.03), (1271, -0.02),
    (1278, 0.0), (1285, 0.03), (1292, 0.07), (1299, 0.10), (1306, 0.15), (1313, 0.18), (1320, 0.22),
    (1327, 0.27), (1334, 0.31), (1341, 0.35), (1348, 0.38), (1355, 0.42), (1362, 0.39), (1369, 0.38),
    (1376, 0.40), (1383, 0.41), (1390, 0.36), (1397, 0.31), (1404, 0.27), (1408, 0.21), (1413, 0.25),
    (1419, 0.27), (1425, 0.23), (1431, 0.24), (1438, 0.21), (1445, 0.22), (1452, 0.19), (1459, 0.13),
    (1466, 0.10), (1473, 0.08), (1480, 0.07), (1487, 0.05), (1494, 0.03), (1501, 0.015), (1508, 0.0),
    (1515, -0.03), (1522, -0.04), (1529, -0.046), (1536, -0.04), (1543, -0.055), (1550, -0.06), (1557, -0.07),
    (1564, -0.09), (1571, -0.10), (1578, -0.11), (1582, -0.12), (1589, -0.10), (1596, -0.09), (1603, -0.08),
    (1610, -0.07), (1617, -0.06), (1624, -0.055), (1631, 0.015), (1638, 0.07), (1644, 0.09), (1651, 0.14),
    (1658, 0.21), (1665, 0.27), (1672, 0.31), (1679, 0.35), (1686, 0.37), (1693, 0.36), (1700, 0.36),
    (1707, 0.35), (1714, 0.345), (1721, 0.34), (1728, 0.33), (1735, 0.29), (1742, 0.25), (1749, 0.21),
    (1756, 0.17), (1763, 0.14), (1770, 0.11), (1777, 0.08), (1784, 0.06), (1791, 0.04), (1798, 0.037),
    (1805, 0.04), (1811, 0.037), (1818, 0.05), (1825, 0.067), (1832, 0.076), (1839, 0.05), (1846, 0.06),
    (1853, 0.04), (1860, 0.05), (1867, 0.03), (1874, 0.024), (1881, 0.015), (1888, 0.06), (1895, 0.08),
    (1902, 0.06), (1909, 0.08), (1916, 0.10), (1923, 0.12), (1930, 0.14), (1937, 0.145), (1944, 0.14),
    (1951, 0.13), (1958, 0.13), (1965, 0.12), (1972, 0.11), (1979, 0.12), (1986, 0.11), (1992, 0.08),
    (1998, 0.10), (2005, 0.16), (2012, 0.18), (2019, 0.19), (2026, 0.20), (2033, 0.19), (2040, 0.21),
    (2047, 0.19), (2054, 0.20), (2061, 0.18), (2068, 0.20), (2075, 0.21), (2082, 0.215), (2088, 0.20),
    (2095, 0.18), (2102, 0.16), (2109, 0.17), (2116, 0.18), (2123, 0.24), (2132, 0.32), (2139, 0.26),
    (2146, 0.20), (2153, 0.21), (2159, 0.17), (2166, 0.12), (2173, 0.07), (2180, 0.015), (2187, -0.03),
    (2194, -0.06), (2201, -0.11), (2208, -0.09), (2215, -0.07), (2222, -0.06), (2229, -0.055), (2236, -0.08),
    (2243, -0.06), (2250, -0.04), (2257, -0.03), (2264, -0.02), (2271, 0.0), (2278, 0.006), (2285, 0.024),
    (2292, 0.03), (2299, 0.05), (2306, 0.06), (2313, 0.08), (2320, 0.10), (2327, 0.13), (2334, 0.12),
    (2340, 0.11), (2347, 0.08), (2354, 0.067), (2361, 0.11), (2368, 0.14), (2375, 0.16), (2382, 0.19),
    (2389, 0.215), (2396, 0.24), (2403, 0.25), (2410, 0.26), (2417, 0.27), (2424, 0.28), (2431, 0.29),
    (2438, 0.31), (2445, 0.28), (2452, 0.26), (2459, 0.22), (2466, 0.19), (2473, 0.15), (2480, 0.16),
    (2487, 0.145), (2494, 0.17), (2501, 0.15), (2508, 0.14), (2512, 0.13),
]

iq_ticks = [-2, -1, 0, 1, 2]
quad_ticks = [-2, -1.5, -1, -0.5, 0, 0.5, 1, 1.5, 2]
symbol_ticks = [500, 1000, 1500, 2000, 2500]
mse_ticks = [0, 0.5, 1, 1.5, 2]
phase_ticks = [-1, 0, 1, 2, 3, 4]
vel_ticks = [-0.4, -0.2, 0, 0.2, 0.4, 0.6]

# ---------------- helpers ----------------
GRID = dict(gridColor="black", gridDash=[1.5, 11], gridWidth=1.4, gridOpacity=0.85)
TEXT = dict(labelFont=FONT, titleFont=FONT, labelFontSize=25, titleFontSize=28,
            titleFontWeight="normal", labelColor="black", titleColor="black")


def axis(title, values, fmt, title_pad, label_pad):
    return alt.Axis(
        title=title, values=values, format=fmt, grid=True, ticks=False, domain=False,
        labelPadding=label_pad, titlePadding=title_pad, labelFlush=False, labelOverlap=False,
        **TEXT, **GRID,
    )


iq_df = pd.DataFrame(iq_upper_left + iq_upper_right + iq_lower_left + iq_lower_right,
                     columns=["inphase", "quadrature"])
mse_df = pd.DataFrame(mse_points, columns=["symbol", "value"])
phase_df = pd.DataFrame(phase_points, columns=["symbol", "value"])
vel_df = pd.DataFrame(velocity_points, columns=["symbol", "value"])

SYM_DOMAIN = [0, 2512]
TOP_H = 460
IQ_SCALE = alt.Scale(domain=[-2, 2], nice=False, zero=False)

# Quadrature axis (labels + title) drawn in a narrow strip left of the constellation,
# so that the constellation box can sit further right than the velocity box below it.
quad_axis = alt.Chart(pd.DataFrame({"q": quad_ticks})).mark_point(opacity=0).encode(
    y=alt.Y("q:Q", scale=IQ_SCALE,
            axis=alt.Axis(title="Quadrature", values=quad_ticks, format=".1~f", grid=False,
                          ticks=False, domain=False, labelPadding=6, titlePadding=18,
                          offset=-10.5, labelFlush=False, labelOverlap=False, **TEXT)),
).properties(width=7, height=TOP_H, view=alt.ViewBackground(stroke=None))

scatter = alt.Chart(iq_df).mark_circle(size=40, color="black", opacity=1).encode(
    x=alt.X("inphase:Q", scale=IQ_SCALE, axis=axis("In-phase", iq_ticks, "d", 8, 7)),
    y=alt.Y("quadrature:Q", scale=IQ_SCALE,
            axis=alt.Axis(title=None, values=quad_ticks, grid=True, ticks=False, domain=False,
                          labels=False, **GRID)),
).properties(width=593, height=TOP_H)


def line_panel(df, ytitle, ydomain, yticks, yfmt, ytitle_pad, xtitle_pad, width, height, interp="linear"):
    return alt.Chart(df).mark_line(color="black", strokeWidth=1.9, interpolate=interp).encode(
        x=alt.X("symbol:Q", scale=alt.Scale(domain=SYM_DOMAIN, nice=False, zero=False),
                axis=axis("Symbols", symbol_ticks, "d", xtitle_pad, 7)),
        y=alt.Y("value:Q", scale=alt.Scale(domain=ydomain, nice=False, zero=False),
                axis=axis(ytitle, yticks, yfmt, ytitle_pad, 6)),
    ).properties(width=width, height=height)


mse = line_panel(mse_df, "MSE", [0, 2], mse_ticks, ".1~f", 12, 11, 594, TOP_H)
phase = line_panel(phase_df, "Phase (rad)", [-1, 4], phase_ticks, "d", 16, 11, 591, TOP_H, "monotone")
velocity = line_panel(vel_df, "Velocity (m/s)", [-0.6, 0.6], vel_ticks, ".1~f", 8, 5, 603, 478)

left_pair = alt.hconcat(scatter, mse, spacing=181, bounds="flush")
panels = alt.hconcat(left_pair, phase, spacing=68)
top = alt.hconcat(quad_axis, panels, spacing=-4.5)
chart = alt.vconcat(top, velocity, spacing=35).properties(
    padding={"left": 4, "top": 0, "right": 0, "bottom": 0}
).configure_view(stroke="black", strokeWidth=1.6)

chart.save("out.html", embed_options={"renderer": "svg", "actions": False})
